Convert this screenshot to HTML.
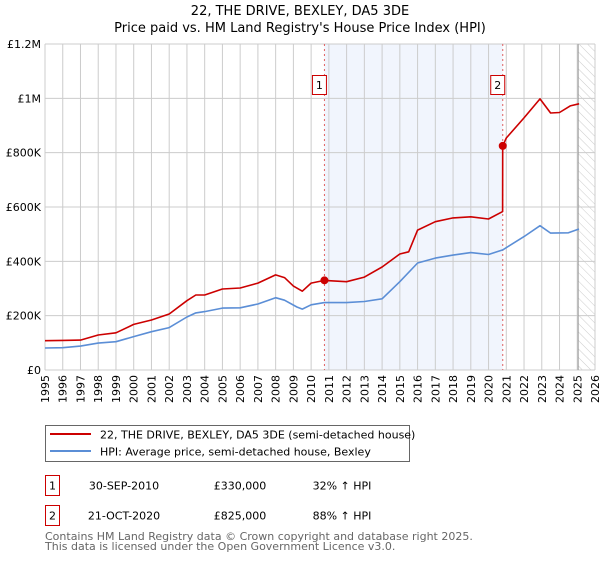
<!DOCTYPE html>
<html><head><meta charset="utf-8"><style>
body{margin:0;background:#fff;font-family:"DejaVu Sans","Liberation Sans",sans-serif;}
svg text{font-family:"DejaVu Sans","Liberation Sans",sans-serif;}
</style></head><body>
<svg id="c" width="600" height="560" xmlns="http://www.w3.org/2000/svg">
<defs><pattern id="hatch" width="6" height="6" patternUnits="userSpaceOnUse" patternTransform="rotate(-45)"><line x1="0" y1="0" x2="0" y2="6" stroke="#ccc" stroke-width="1"/></pattern></defs>
<text x="300" y="15" text-anchor="middle" font-size="13">22, THE DRIVE, BEXLEY, DA5 3DE</text>
<text x="300" y="32" text-anchor="middle" font-size="13">Price paid vs. HM Land Registry's House Price Index (HPI)</text>
<g id="plot"></g>
<g>
<rect x="45.5" y="425.5" width="364" height="36" fill="#fff" stroke="#666"/>
<line x1="50" y1="434" x2="91" y2="434" stroke="#cc0000" stroke-width="2"/>
<text x="100" y="438.5" font-size="11">22, THE DRIVE, BEXLEY, DA5 3DE (semi-detached house)</text>
<line x1="50" y1="451" x2="91" y2="451" stroke="#5b8ed6" stroke-width="2"/>
<text x="100" y="455.5" font-size="11">HPI: Average price, semi-detached house, Bexley</text>
</g>
<g font-size="11">
<rect x="45.5" y="475.5" width="14" height="20" fill="#fff" stroke="#cc0000"/>
<text x="52.5" y="489.5" text-anchor="middle">1</text>
<text x="124" y="489.5" text-anchor="middle">30-SEP-2010</text>
<text x="240" y="489.5" text-anchor="middle">£330,000</text>
<text x="342" y="489.5" text-anchor="middle">32% ↑ HPI</text>
<rect x="45.5" y="505.5" width="14" height="20" fill="#fff" stroke="#cc0000"/>
<text x="52.5" y="519.5" text-anchor="middle">2</text>
<text x="124" y="519.5" text-anchor="middle">21-OCT-2020</text>
<text x="240" y="519.5" text-anchor="middle">£825,000</text>
<text x="342" y="519.5" text-anchor="middle">88% ↑ HPI</text>
</g>
<text x="45" y="540" font-size="11" fill="#666">Contains HM Land Registry data © Crown copyright and database right 2025.</text>
<text x="45" y="550" font-size="11" fill="#666">This data is licensed under the Open Government Licence v3.0.</text>
</svg>
<script>
const years=[1995,1996,1997,1998,1999,2000,2001,2002,2003,2004,2005,2006,2007,2008,2009,2010,2011,2012,2013,2014,2015,2016,2017,2018,2019,2020,2021,2022,2023,2024,2025,2026];
const yTicks=[0,200000,400000,600000,800000,1000000,1200000];
const yTickLabels=["£0","£200K","£400K","£600K","£800K","£1M","£1.2M"];
const hpiT=[1995,1996,1997,1998,1999,2000,2001,2002,2003,2003.5,2004,2005,2006,2007,2008,2008.5,2009.2,2009.5,2010,2010.75,2012,2013,2014,2015,2016,2017,2018,2019,2020,2020.8,2022,2022.9,2023.5,2024.5,2025.1];
const hpiV=[81000,82000,88000,99000,104000,123000,141000,156000,195000,210000,215000,228000,229000,243000,266000,257000,232000,224000,240000,248000,248000,252000,262000,325000,394000,412000,423000,432000,425000,442000,491000,531000,504000,505000,519000];
const propT=[1995,1996,1997,1998,1999,2000,2001,2002,2003,2003.5,2004,2005,2006,2007,2008,2008.5,2009,2009.5,2010,2010.75,2012,2013,2014,2015,2015.5,2016,2017,2018,2019,2020,2020.79,2020.8,2021,2022,2022.9,2023.5,2024,2024.6,2025.1];
const propV=[108000,109000,110000,129000,137000,168000,184000,206000,255000,276000,276000,298000,302000,320000,350000,340000,309000,290000,320000,330000,325000,342000,379000,427000,435000,515000,546000,560000,564000,556000,583000,825000,854000,928000,998000,946000,948000,972000,980000];
const sales=[{n:"1",t:2010.75,v:330000},{n:"2",t:2020.8,v:825000}];
const X0=45,X1=595,Y0=370,Y1=44;
const sx=t=>X0+(t-1995)/(2026-1995)*(X1-X0);
const sy=v=>Y0-v/1200000*(Y0-Y1);
const NS="http://www.w3.org/2000/svg";
const g=document.getElementById('plot');
function mk(tag,attrs,parent){const e=document.createElementNS(NS,tag);for(const k in attrs)e.setAttribute(k,attrs[k]);(parent||g).appendChild(e);return e;}
let e=mk('rect',{x:sx(sales[0].t),y:Y1,width:sx(sales[1].t)-sx(sales[0].t),height:Y0-Y1,fill:'#eef2fc',opacity:0.8});


e=mk('rect',{x:sx(2025.05),y:Y1,width:X1-sx(2025.05),height:Y0-Y1,fill:'url(#hatch)'});


years.forEach(y=>{
 const x=sx(y);
 let l=mk('line',{x1:x,x2:x,y1:Y1,y2:Y0,stroke:'#ccc','stroke-width':1});
 
 
 let t=mk('text',{x:0,y:0,'font-size':11,'text-anchor':'end',transform:`translate(${x+4},${Y0+5}) rotate(-90)`});
 t.textContent=y;
 
 
});
yTicks.forEach((v,i)=>{
 const y=sy(v);
 let l=mk('line',{x1:X0,x2:X1,y1:y,y2:y,stroke:'#ccc','stroke-width':1});
 
 
 let t=mk('text',{x:X0-4,y:y+4,'font-size':11,'text-anchor':'end'});
 t.textContent=yTickLabels[i];
 
 
});
e=mk('line',{x1:sx(2025.05),x2:sx(2025.05),y1:Y1,y2:Y0,stroke:'#999','stroke-width':1});


sales.forEach(s=>{
 let l=mk('line',{x1:sx(s.t),x2:sx(s.t),y1:Y1,y2:Y0,stroke:'#e06060','stroke-width':1,'stroke-dasharray':'2,3'});
 
 
});
function path(T,V,color,name){
 const d=T.map((t,i)=>(i?'L':'M')+sx(t).toFixed(1)+','+sy(V[i]).toFixed(1)).join('');
 const p=mk('path',{d:d,fill:'none',stroke:color,'stroke-width':1.6,'stroke-linejoin':'round'});
 
 
}
path(hpiT,hpiV,'#5b8ed6','hpi-line');
path(propT,propV,'#cc0000','property-price-line');
sales.forEach(s=>{
 let c=mk('circle',{cx:sx(s.t),cy:sy(s.v),r:4,fill:'#cc0000'});
 
 
 const bx=sx(s.t)-5;
 let r=mk('rect',{x:bx-7,y:75.5,width:14,height:19,fill:'#fff',stroke:'#cc0000'});
 
 
 let t=mk('text',{x:bx,y:89,'font-size':11,'text-anchor':'middle'});
 t.textContent=s.n;
 
 
});
</script>
</body></html>
